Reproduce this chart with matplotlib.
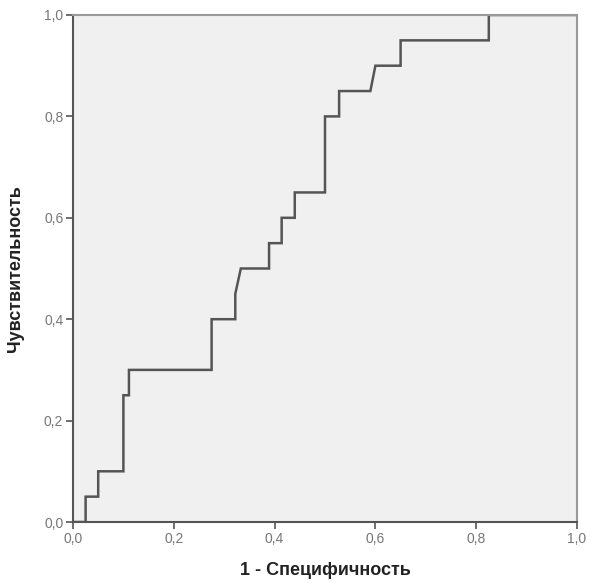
import matplotlib.pyplot as plt

# ROC curve vertices
fpr = [0.0, 0.025, 0.025, 0.05, 0.05, 0.1, 0.1, 0.111, 0.111, 0.275, 0.275,
       0.322, 0.322, 0.333, 0.389, 0.389, 0.414, 0.414, 0.44, 0.44, 0.5, 0.5,
       0.528, 0.528, 0.59, 0.6, 0.65, 0.65, 0.825, 0.825, 1.0]
tpr = [0.0, 0.0, 0.05, 0.05, 0.1, 0.1, 0.25, 0.25, 0.3, 0.3, 0.4,
       0.4, 0.45, 0.5, 0.5, 0.55, 0.55, 0.6, 0.6, 0.65, 0.65, 0.8,
       0.8, 0.85, 0.85, 0.9, 0.9, 0.95, 0.95, 1.0, 1.0]

ticks = [0.0, 0.2, 0.4, 0.6, 0.8, 1.0]
tick_labels = ["0,0", "0,2", "0,4", "0,6", "0,8", "1,0"]

plt.rcParams['font.family'] = ['Liberation Sans', 'DejaVu Sans']

fig = plt.figure(figsize=(5.9, 5.83), dpi=100)
ax = fig.add_axes([73/590, 1 - 522/583, 504/590, 507/583])
ax.set_facecolor('#f0f0f0')

ax.plot(fpr, tpr, color='#555555', lw=1.8, solid_joinstyle='miter')

ax.set_xlim(0, 1)
ax.set_ylim(0, 1)
ax.set_xticks(ticks)
ax.set_xticklabels(tick_labels)
ax.set_yticks(ticks)
ax.set_yticklabels(tick_labels)
ax.tick_params(direction='out', length=5, width=1.2, color='#555555',
               labelcolor='#777777', labelsize=10, pad=2)

for side in ['left', 'bottom']:
    ax.spines[side].set_color('#555555')
    ax.spines[side].set_linewidth(1.5)
for side in ['top', 'right']:
    ax.spines[side].set_color('#999999')
    ax.spines[side].set_linewidth(1.5)

ax.set_xlabel("1 - Специфичность", fontsize=13, fontweight='bold',
              color='#222222', labelpad=12)
ax.set_ylabel("Чувствительность", fontsize=13, fontweight='bold',
              color='#222222', labelpad=14)

fig.savefig("out.png", dpi=100)
